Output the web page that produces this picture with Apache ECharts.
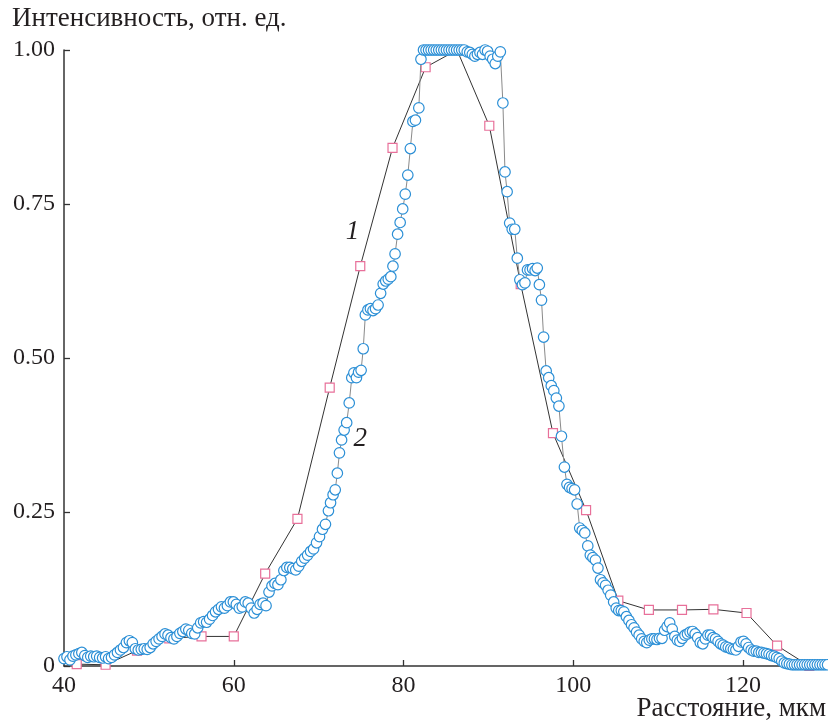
<!DOCTYPE html>
<html>
<head>
<meta charset="utf-8">
<script src="https://cdn.jsdelivr.net/npm/echarts@6/dist/echarts.min.js"></script>
<style>
html,body{margin:0;padding:0;background:#fff;}
#chart{width:828px;height:723px;}
</style>
</head>
<body>
<div id="chart"></div>
<script>
// Series 1 (squares), [distance, intensity]
const series1 = [
  [41.5,0.003],[44.9,0.002],[48.6,0.025],[52.4,0.045],[56.2,0.048],[60.0,0.048],
  [63.7,0.150],[67.5,0.239],[71.3,0.452],[74.9,0.649],[78.7,0.841],[82.6,0.972],
  [86.3,1.0],[90.1,0.877],[93.8,0.620],[97.6,0.378],[101.5,0.253],[105.3,0.106],
  [108.9,0.091],[112.8,0.091],[116.5,0.092],[120.4,0.086],[124.0,0.033],[127.8,0.0]
];
// Series 2 (circles), [distance, intensity]
const series2 = [
  [40.0,0.012],[40.35,0.015],[40.7,0.010],[41.05,0.016],[41.4,0.018],[41.75,0.020],
  [42.1,0.022],[42.45,0.017],[42.8,0.014],[43.15,0.016],[43.5,0.015],[43.85,0.016],
  [44.2,0.014],[44.55,0.013],[44.9,0.015],[45.25,0.012],[45.6,0.014],[45.95,0.018],
  [46.3,0.022],[46.65,0.026],[47.0,0.030],[47.35,0.038],[47.7,0.041],[48.05,0.038],
  [48.4,0.028],[48.75,0.026],[49.1,0.027],[49.45,0.028],[49.8,0.027],[50.15,0.030],
  [50.5,0.036],[50.85,0.040],[51.2,0.044],[51.55,0.048],[51.9,0.052],[52.25,0.050],
  [52.6,0.046],[52.95,0.044],[53.3,0.048],[53.65,0.053],[54.0,0.056],[54.35,0.060],
  [54.7,0.058],[55.05,0.053],[55.4,0.052],[55.75,0.062],[56.1,0.070],[56.45,0.072],
  [56.8,0.071],[57.15,0.076],[57.5,0.082],[57.85,0.088],[58.2,0.092],[58.55,0.096],
  [58.9,0.094],[59.25,0.098],[59.6,0.104],[59.95,0.104],[60.3,0.100],[60.65,0.094],
  [61.0,0.096],[61.35,0.104],[61.7,0.102],[62.05,0.094],[62.4,0.086],[62.75,0.092],
  [63.1,0.100],[63.45,0.102],[63.8,0.098],[64.15,0.120],[64.5,0.130],[64.85,0.134],
  [65.2,0.132],[65.55,0.140],[65.9,0.155],[66.25,0.160],[66.6,0.160],[66.95,0.158],
  [67.3,0.156],[67.65,0.162],[68.0,0.170],[68.35,0.175],[68.7,0.180],[69.05,0.186],
  [69.4,0.190],[69.75,0.200],[70.1,0.210],[70.45,0.222],[70.8,0.230],[71.15,0.252],
  [71.4,0.265],[71.7,0.278],[71.95,0.286],[72.2,0.313],[72.45,0.346],[72.7,0.367],
  [73.0,0.383],[73.3,0.395],[73.6,0.427],[73.9,0.468],[74.15,0.476],[74.45,0.468],
  [74.7,0.477],[75.0,0.480],[75.25,0.515],[75.5,0.570],[75.8,0.578],[76.1,0.580],
  [76.4,0.577],[76.7,0.580],[77.0,0.586],[77.3,0.605],[77.6,0.620],[77.9,0.625],
  [78.2,0.628],[78.5,0.632],[78.75,0.649],[79.0,0.669],[79.3,0.701],[79.6,0.720],
  [79.9,0.742],[80.2,0.766],[80.5,0.797],[80.8,0.840],[81.1,0.884],[81.4,0.886],
  [81.8,0.906],[82.05,0.985],[82.35,1.0],[82.65,1.0],[82.95,1.0],[83.25,1.0],
  [83.55,1.0],[83.85,1.0],[84.15,1.0],[84.45,1.0],[84.75,1.0],[85.05,1.0],
  [85.35,1.0],[85.65,1.0],[85.95,1.0],[86.25,1.0],[86.55,1.0],[86.85,1.0],
  [87.15,1.0],[87.5,0.997],[87.8,0.996],[88.1,0.993],[88.4,0.990],[88.7,0.993],
  [89.0,0.996],[89.3,0.993],[89.6,1.0],[89.9,0.998],[90.2,0.990],[90.5,0.985],
  [90.8,0.978],[91.1,0.990],[91.4,0.997],[91.7,0.914],[91.95,0.802],[92.2,0.770],
  [92.5,0.719],[92.8,0.709],[93.1,0.709],[93.4,0.662],[93.7,0.627],[94.0,0.619],
  [94.3,0.622],[94.6,0.643],[94.9,0.643],[95.2,0.645],[95.5,0.642],[95.75,0.646],
  [96.0,0.619],[96.25,0.594],[96.5,0.534],[96.8,0.479],[97.1,0.468],[97.4,0.455],
  [97.7,0.447],[98.0,0.435],[98.3,0.422],[98.6,0.373],[98.95,0.323],[99.25,0.295],
  [99.55,0.290],[99.85,0.288],[100.15,0.286],[100.45,0.263],[100.75,0.224],[101.05,0.220],
  [101.35,0.216],[101.7,0.195],[102.0,0.180],[102.3,0.176],[102.6,0.172],[102.9,0.159],
  [103.2,0.140],[103.5,0.135],[103.8,0.131],[104.1,0.123],[104.4,0.115],[104.75,0.104],
  [105.05,0.094],[105.35,0.090],[105.65,0.090],[105.95,0.088],[106.25,0.080],[106.55,0.074],
  [106.85,0.067],[107.15,0.062],[107.45,0.055],[107.75,0.050],[108.05,0.044],[108.35,0.040],
  [108.65,0.038],[108.95,0.042],[109.25,0.044],[109.55,0.044],[109.85,0.043],[110.15,0.045],
  [110.45,0.045],[110.75,0.058],[111.05,0.064],[111.35,0.070],[111.65,0.060],[111.95,0.048],
  [112.25,0.042],[112.55,0.040],[112.85,0.045],[113.15,0.050],[113.45,0.052],[113.75,0.055],
  [114.05,0.056],[114.35,0.052],[114.65,0.046],[114.95,0.038],[115.25,0.036],[115.55,0.044],
  [115.85,0.050],[116.15,0.050],[116.45,0.046],[116.75,0.044],[117.05,0.040],[117.35,0.036],
  [117.65,0.034],[117.95,0.031],[118.25,0.030],[118.55,0.028],[118.85,0.027],[119.15,0.026],
  [119.45,0.032],[119.75,0.039],[120.05,0.040],[120.35,0.036],[120.65,0.030],[120.95,0.026],
  [121.25,0.024],[121.55,0.024],[121.85,0.022],[122.15,0.022],[122.45,0.021],[122.75,0.020],
  [123.05,0.019],[123.35,0.017],[123.65,0.016],[123.95,0.014],[124.25,0.012],[124.55,0.008],
  [124.85,0.005],[125.15,0.004],[125.45,0.003],[125.75,0.002],[126.05,0.002],[126.35,0.002],
  [126.65,0.002],[126.95,0.002],[127.25,0.002],[127.55,0.002],[127.85,0.002],[128.15,0.002],
  [128.45,0.002],[128.75,0.002],[129.05,0.002],[129.35,0.002],[129.65,0.002],[129.95,0.002]
];
const xTicks = [40, 60, 80, 100, 120];
const yTicks = [0, 0.25, 0.5, 0.75, 1.0];
const yTitle = 'Интенсивность, отн. ед.';
const xTitle = 'Расстояние, мкм';
const curveLabels = ['1', '2'];
const curveLabelAt = [[74.0, 0.705], [74.9, 0.368]];

const FONT = '"Liberation Serif", "DejaVu Serif", serif';
const TXT = '#231f20';

const chart = echarts.init(document.getElementById('chart'), null, {renderer: 'canvas'});
chart.setOption({
  animation: false,
  backgroundColor: '#ffffff',
  grid: {left: 64, right: 0, top: 50, bottom: 57, containLabel: false},
  xAxis: {
    type: 'value', min: 40, max: 130, interval: 20,
    axisLine: {lineStyle: {color: '#333', width: 1.5}},
    axisTick: {inside: true, length: 6, lineStyle: {color: '#333', width: 1.3},
      customValues: xTicks.slice(1)},
    axisLabel: {color: TXT, fontFamily: FONT, fontSize: 24, margin: 8,
      customValues: xTicks, showMaxLabel: true, showMinLabel: true},
    splitLine: {show: false}
  },
  yAxis: {
    type: 'value', min: 0, max: 1, interval: 0.25,
    axisLine: {show: true, lineStyle: {color: '#333', width: 1.5}},
    axisTick: {show: true, inside: true, length: 6, lineStyle: {color: '#333', width: 1.3}},
    axisLabel: {color: TXT, fontFamily: FONT, fontSize: 24, margin: 9,
      customValues: yTicks,
      formatter: v => (v === 0 ? '0' : v.toFixed(2))},
    splitLine: {show: false}
  },
  series: [
    {
      type: 'line', data: series1, clip: false, z: 2,
      symbol: 'rect', symbolSize: 9,
      lineStyle: {color: '#333', width: 1},
      itemStyle: {color: '#ffffff', borderColor: '#e8709a', borderWidth: 1.2}
    },
    {
      type: 'line', data: series2, clip: false, z: 3,
      symbol: 'circle', symbolSize: 10.5,
      lineStyle: {color: '#8a8a8a', width: 1},
      itemStyle: {color: '#ffffff', borderColor: '#2b8fd6', borderWidth: 1.2}
    }
  ]
});

const graphics = [
  {type: 'text', left: 12, top: 5, style: {text: yTitle, fill: TXT, font: '27px ' + FONT}},
  {type: 'text', right: 2, top: 695, style: {text: xTitle, fill: TXT, font: '27px ' + FONT}}
];
curveLabels.forEach((t, i) => {
  const p = chart.convertToPixel({gridIndex: 0}, curveLabelAt[i]);
  graphics.push({type: 'text', x: p[0], y: p[1], z: 10,
    style: {text: t, fill: TXT, font: 'italic 27px ' + FONT, align: 'center', verticalAlign: 'middle'}});
});
chart.setOption({graphic: graphics});
</script>
</body>
</html>
